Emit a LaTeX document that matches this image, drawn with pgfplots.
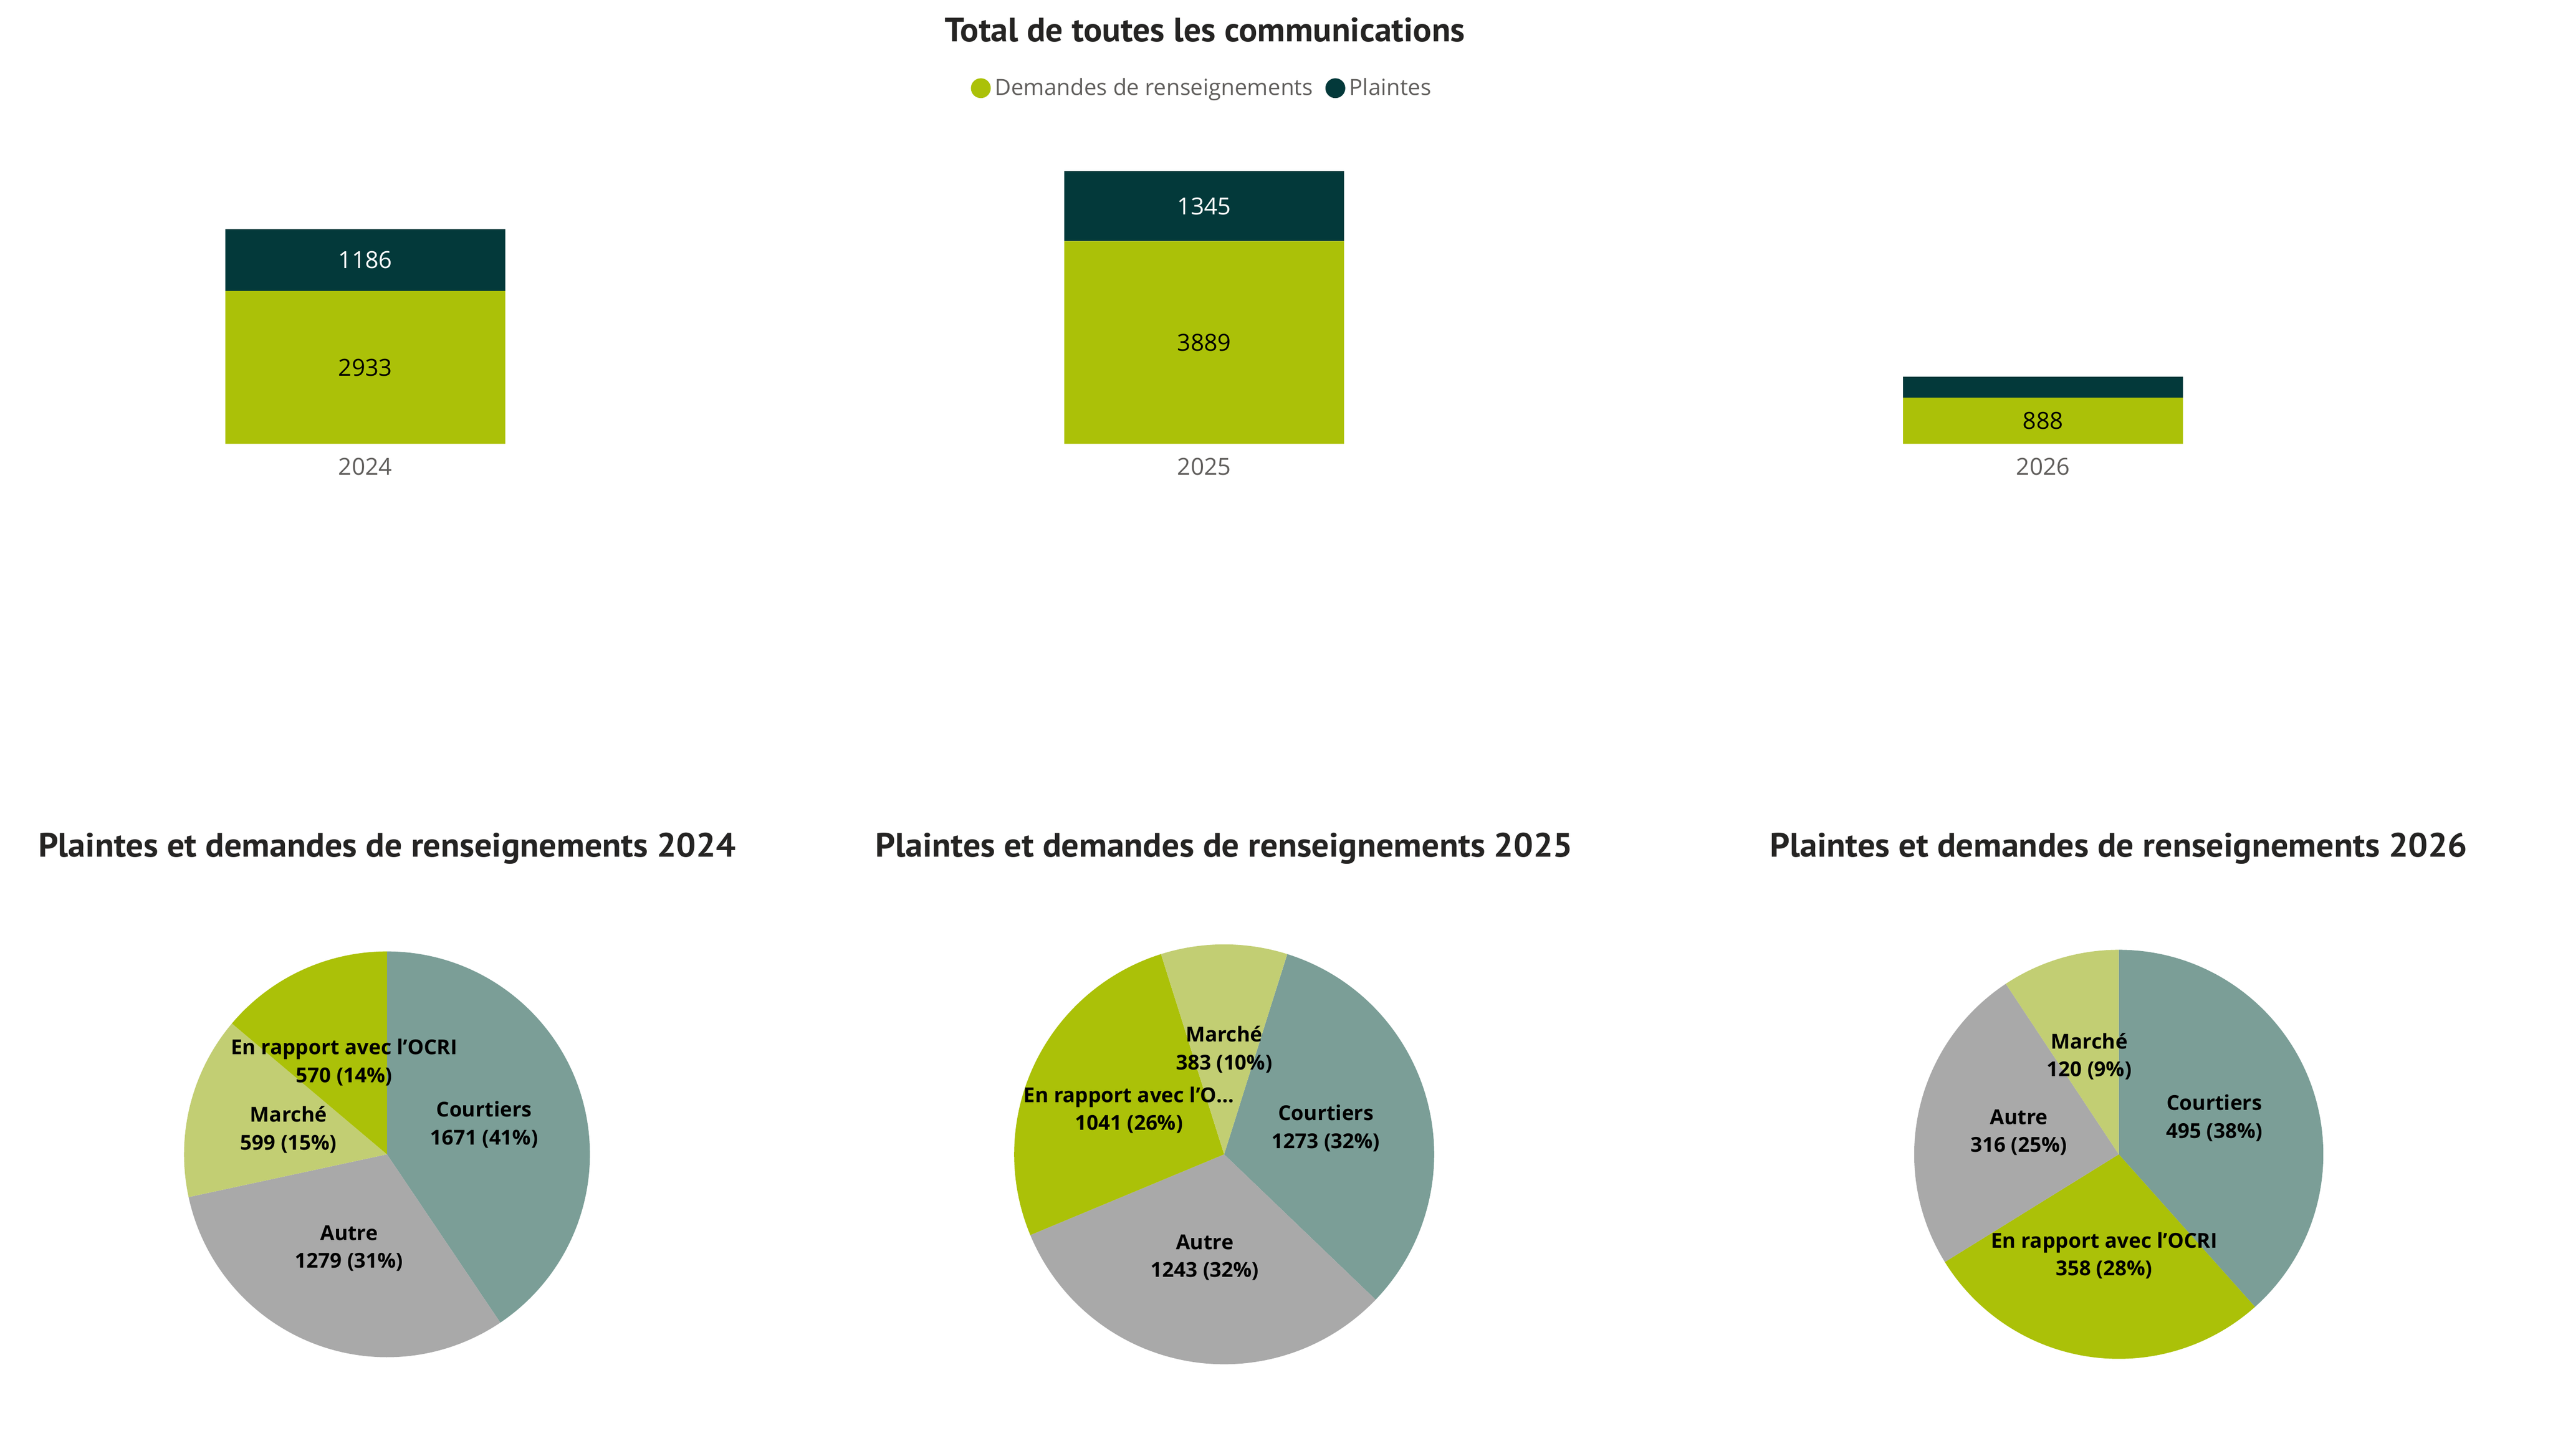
\documentclass[border=0pt]{standalone}
\usepackage{fontspec}
\usepackage{graphicx}
\usepackage{pgfplots}
\usepackage{pgfplotstable}
\pgfplotsset{compat=1.18}
\setmainfont{Open Sans}
\newfontfamily\titlefont{PT Sans}
\definecolor{cgreen}{HTML}{ABC108}
\definecolor{cdark}{HTML}{03393A}
\definecolor{cteal}{HTML}{7B9E97}
\definecolor{clight}{HTML}{C2CE73}
\definecolor{cgray}{HTML}{A9A9A9}
\definecolor{ctxt}{HTML}{605E5C}
\definecolor{ctitle}{HTML}{252423}

\pgfplotstableread{
x dem pla demlab plalab
0 2933 1186 2933 1186
1 3889 1345 3889 1345
2 888 400 888 {}
}\bartab

% #1 radius (bp), #2 start angle (deg, clockwise from top), #3 list value/colour/line1/line2
\newcommand\drawpie[3]{%
  \xdef\pietot{0}%
  \foreach \v/\c/\la/\lb in {#3}{\pgfmathsetmacro\t{\pietot+\v}\xdef\pietot{\t}}%
  \xdef\pieacc{#2}%
  \foreach \v/\c/\la/\lb in {#3}{%
    \pgfmathsetmacro\a{\pieacc}%
    \pgfmathsetmacro\b{\pieacc+\v/\pietot*360}%
    \fill[\c] (axis cs:0,0) -- (axis cs:{#1*sin(\a)},{#1*cos(\a)})
      arc[start angle={90-\a}, end angle={90-\b}, radius=#1bp] -- cycle;
    \xdef\pieacc{\b}%
  }%
  \xdef\pieacc{#2}%
  \foreach \v/\c/\la/\lb in {#3}{%
    \pgfmathsetmacro\a{\pieacc}%
    \pgfmathsetmacro\b{\pieacc+\v/\pietot*360}%
    \pgfmathsetmacro\m{(\a+\b)/2}%
    \node[align=center, text=black, inner sep=0pt,
      font=\bfseries\fontsize{12.5bp}{17bp}\selectfont]
      at (axis cs:{0.5*#1*sin(\m)},{0.5*#1*cos(\m)}) {\la\\\lb};
    \xdef\pieacc{\b}%
  }%
}

\pgfplotsset{pieax/.style={anchor=center, scale only axis, width=2*#1 bp, height=2*#1 bp,
  xmin=-#1, xmax=#1, ymin=-#1, ymax=#1, hide axis, clip=false}}

\newcommand\ttl[2]{\resizebox{#1}{\height}{\titlefont\bfseries\fontsize{20.6bp}{24bp}\selectfont #2}}

\begin{document}
\begin{tikzpicture}
\useasboundingbox (0,0) rectangle (1555bp,886.8bp);

% ---------- titles ----------
\node[anchor=base, inner sep=0pt, text=ctitle] at (734bp,861.3bp)
  {\ttl{316.7bp}{Total de toutes les communications}};
\node[anchor=base, inner sep=0pt, text=ctitle] at (235.7bp,364.8bp)
  {\ttl{424.7bp}{Plaintes et demandes de renseignements 2024}};
\node[anchor=base, inner sep=0pt, text=ctitle] at (745.6bp,364.8bp)
  {\ttl{424.7bp}{Plaintes et demandes de renseignements 2025}};
\node[anchor=base, inner sep=0pt, text=ctitle] at (1290.5bp,364.8bp)
  {\ttl{424.7bp}{Plaintes et demandes de renseignements 2026}};

% ---------- stacked bars ----------
\begin{axis}[
  at={(18.12bp,616.4bp)}, anchor=south west, scale only axis,
  width=1430.66bp, height=180.98bp,
  xmin=-0.4, xmax=2.4, ymin=0, ymax=5700,
  ybar stacked, bar width=170.5bp,
  axis line style={draw=none}, major tick length=0pt,
  ytick=\empty, xtick={0,1,2}, xticklabels={2024,2025,2026},
  xticklabel style={font=\fontsize{14.3bp}{16bp}\selectfont, text=ctxt, anchor=base, inner sep=0pt, yshift=-19.1bp},
  /pgf/number format/assume math mode=true,
  clip=false,
  legend columns=2,
  legend style={at={(0.40068,1.1972)}, anchor=west, draw=none, fill=none,
    inner sep=0pt, outer sep=0pt, font=\fontsize{13.6bp}{16bp}\selectfont, text=ctxt,
    /tikz/every odd column/.append style={column sep=2.45bp},
    /tikz/every even column/.append style={column sep=7.65bp},
    nodes={inner sep=0pt}},
  nodes near coords, point meta=explicit symbolic,
]
\addplot[fill=cgreen, draw=none,
  every node near coord/.append style={anchor=center, text=black, inner sep=0pt,
     font=\fontsize{14.3bp}{16bp}\selectfont},
  legend image code/.code={\fill[cgreen] (0bp,0bp) circle (6.05bp);}]
  table[x=x, y=dem, meta=demlab] {\bartab};
\addplot[fill=cdark, draw=none,
  every node near coord/.append style={anchor=center, text=white, inner sep=0pt,
     font=\fontsize{14.3bp}{16bp}\selectfont},
  legend image code/.code={\fill[cdark] (0bp,0bp) circle (6.05bp);}]
  table[x=x, y=pla, meta=plalab] {\bartab};
\legend{Demandes de renseignements, Plaintes}
\end{axis}

% ---------- pies ----------
\begin{axis}[pieax=123.6, at={(235.7bp,183.6bp)}]
\pgfplotsextra{\drawpie{123.6}{0}{1671/cteal/Courtiers/1671 (41\%), 1279/cgray/Autre/1279 (31\%), 599/clight/Marché/599 (15\%), 570/cgreen/En rapport avec l’OCRI/570 (14\%)}}
\end{axis}

\begin{axis}[pieax=127.9, at={(745.6bp,183.6bp)}]
\pgfplotsextra{\drawpie{127.9}{17.5}{1273/cteal/Courtiers/1273 (32\%), 1243/cgray/Autre/1243 (32\%), 1041/cgreen/En rapport avec l’O…/1041 (26\%), 383/clight/Marché/383 (10\%)}}
\end{axis}

\begin{axis}[pieax=124.6, at={(1290.5bp,183.6bp)}]
\pgfplotsextra{\drawpie{124.6}{0}{495/cteal/Courtiers/495 (38\%), 358/cgreen/En rapport avec l’OCRI/358 (28\%), 316/cgray/Autre/316 (25\%), 120/clight/Marché/120 (9\%)}}
\end{axis}
\end{tikzpicture}
\end{document}
